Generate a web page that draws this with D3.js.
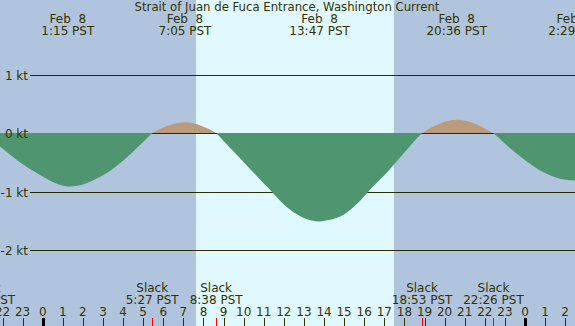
<!DOCTYPE html>
<html>
<head>
<meta charset="utf-8">
<script src="https://cdn.jsdelivr.net/npm/d3@7"></script>
<style>
  html, body { margin: 0; padding: 0; background: #fff; }
  svg { display: block; }
  text { font-family: "DejaVu Sans", sans-serif; font-size: 12px; fill: #333300; white-space: pre; }
</style>
</head>
<body>
<script>
// Hours are counted from midnight, Feb 8 (PST); negative = Feb 7, >24 = Feb 9.
const hours  = [-3.2, -2.88, -2.14, -1.15, -0.15, 0.35, 1.25, 2, 3, 4, 5, 5.45, 6, 6.5, 7.08, 7.5, 8, 8.63,
                9, 10, 11, 11.4, 12, 13, 13.78, 14, 15, 16, 16.2, 17, 18, 18.88,
                19.5, 20, 20.6, 21, 21.5, 22, 22.43, 23, 24, 25, 26, 26.48, 27];
const speeds = [0.04, 0, -0.22, -0.49, -0.71, -0.81, -0.91, -0.875, -0.72, -0.47, -0.15, 0, 0.10, 0.16, 0.19, 0.175, 0.115, 0,
                -0.13, -0.49, -0.86, -1.0, -1.22, -1.45, -1.51, -1.50, -1.39, -1.08, -1.0, -0.72, -0.33, 0,
                0.126, 0.20, 0.235, 0.221, 0.168, 0.085, 0, -0.18, -0.46, -0.68, -0.796, -0.81, -0.80];

const maxTimes  = [1.25, 7.08, 13.78, 20.6, 26.48];
const maxDates  = ["Feb  8", "Feb  8", "Feb  8", "Feb  8", "Feb  9"];
const maxLabels = ["1:15 PST", "7:05 PST", "13:47 PST", "20:36 PST", "2:29 PST"];

const slackTimes  = [-2.88, 5.45, 8.63, 18.88, 22.43];
const slackLabels = ["21:07 PST", "5:27 PST", "8:38 PST", "18:53 PST", "22:26 PST"];

const sunrise = 7.635, sunset = 17.495;
const ktTicks = [1, 0, -1, -2];
const hourTicks = [-2, -1, 0, 1, 2, 3, 4, 5, 6, 7, 8, 9, 10, 11, 12, 13, 14, 15, 16, 17, 18, 19, 20, 21, 22, 23, 24, 25, 26];

const title = "Strait of Juan de Fuca Entrance, Washington Current";

const width = 575, height = 326;
const ink = "#333300";

const x = d3.scaleLinear().domain([0, 24]).range([42.7, 525]);
const y = d3.scaleLinear().domain([1, -2]).range([75, 250]);

const svg = d3.select("body").append("svg")
    .attr("width", width)
    .attr("height", height);

// night / day background
svg.append("rect")
    .attr("width", width).attr("height", height)
    .attr("fill", "#b0c4de");
svg.append("rect")
    .attr("x", Math.round(x(sunrise))).attr("y", 0)
    .attr("width", Math.round(x(sunset)) - Math.round(x(sunrise)))
    .attr("height", height)
    .attr("fill", "#e0f8ff");

// knot lines
svg.append("g")
    .selectAll("line")
    .data(ktTicks)
    .join("line")
    .attr("x1", 30).attr("x2", width)
    .attr("y1", d => Math.round(y(d)) + 0.5)
    .attr("y2", d => Math.round(y(d)) + 0.5)
    .attr("stroke", "#2b2b00")
    .attr("stroke-width", 1);

// current curve, split into flood (above 0) and ebb (below 0)
const zeroY = Math.round(y(0));
const defs = svg.append("defs");
defs.append("clipPath").attr("id", "above")
    .append("rect").attr("x", 0).attr("y", 0).attr("width", width).attr("height", zeroY);
defs.append("clipPath").attr("id", "below")
    .append("rect").attr("x", 0).attr("y", zeroY).attr("width", width).attr("height", height - zeroY);

const pts = hours.map((h, i) => [h, speeds[i]]);
const area = d3.area()
    .x(d => x(d[0]))
    .y0(zeroY)
    .y1(d => y(d[1]))
    .curve(d3.curveMonotoneX);

svg.append("path")
    .datum(pts)
    .attr("d", area)
    .attr("fill", "#bd9a7b")
    .attr("clip-path", "url(#above)");
svg.append("path")
    .datum(pts)
    .attr("d", area)
    .attr("fill", "#4f9670")
    .attr("clip-path", "url(#below)");

// knot labels drawn over the fill
svg.append("g")
    .selectAll("text")
    .data(ktTicks)
    .join("text")
    .attr("x", 28)
    .attr("y", d => Math.round(y(d)) + 5)
    .attr("text-anchor", "end")
    .text(d => d + " kt");

// title and max current labels
svg.append("text")
    .attr("x", 287).attr("y", 11)
    .attr("text-anchor", "middle")
    .style("font-size", "11.7px")
    .text(title);

const maxLbl = svg.append("g")
    .selectAll("g")
    .data(maxTimes)
    .join("g")
    .attr("text-anchor", "middle");
maxLbl.append("text")
    .attr("x", d => x(d)).attr("y", 23)
    .text((d, i) => maxDates[i]);
maxLbl.append("text")
    .attr("x", d => x(d)).attr("y", 35)
    .text((d, i) => maxLabels[i]);

// slack labels
const slackLbl = svg.append("g")
    .selectAll("g")
    .data(slackTimes)
    .join("g")
    .attr("text-anchor", "middle");
slackLbl.append("text")
    .attr("x", d => x(d)).attr("y", 291.5)
    .text("Slack");
slackLbl.append("text")
    .attr("x", d => x(d)).attr("y", 303.5)
    .text((d, i) => slackLabels[i]);

// hour axis
svg.append("g")
    .selectAll("text")
    .data(hourTicks)
    .join("text")
    .attr("x", d => x(d)).attr("y", 316)
    .attr("text-anchor", "middle")
    .text(d => ((d % 24) + 24) % 24);

svg.append("g")
    .selectAll("line")
    .data(hourTicks)
    .join("line")
    .attr("x1", d => Math.round(x(d)) + 0.5)
    .attr("x2", d => Math.round(x(d)) + 0.5)
    .attr("y1", 318).attr("y2", height)
    .attr("stroke", d => d % 24 === 0 ? "#000" : ink)
    .attr("stroke-width", d => d % 24 === 0 ? 3 : 1);

svg.append("g")
    .selectAll("line")
    .data(slackTimes)
    .join("line")
    .attr("x1", d => Math.round(x(d)) + 0.5)
    .attr("x2", d => Math.round(x(d)) + 0.5)
    .attr("y1", 318).attr("y2", height)
    .attr("stroke", "#ff0000")
    .attr("stroke-width", 1);
</script>
</body>
</html>
